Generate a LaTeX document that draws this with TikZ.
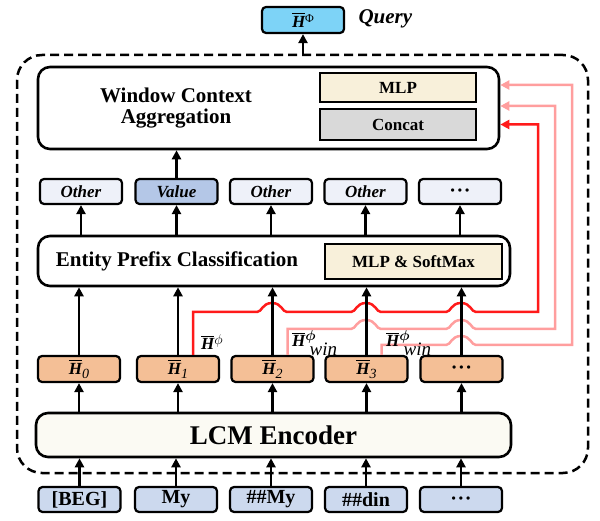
\documentclass[tikz,border=0pt]{standalone}
\usepackage{fontspec}
\usepackage{amsmath}
\usepackage{bm}
\setmainfont{Liberation Serif}
\usetikzlibrary{arrows.meta,calc}
\definecolor{qcyan}{HTML}{7DD3F7}
\definecolor{beige}{HTML}{F8F0DA}
\definecolor{cgray}{HTML}{D9D9D9}
\definecolor{olight}{HTML}{EEF1F9}
\definecolor{vblue}{HTML}{B4C7E7}
\definecolor{peach}{HTML}{F4BF96}
\definecolor{tokblue}{HTML}{CCD9EE}
\definecolor{lcmfill}{HTML}{FBFAF3}
\definecolor{myred}{HTML}{FF1A1A}
\definecolor{mypink}{HTML}{FF9E9E}
\newcommand{\fs}[1]{\fontsize{#1}{#1}\selectfont}
\newcommand{\Hbar}{$\overline{\text{\bfseries\itshape H}}$}
\newcommand{\Hsub}[1]{\Hbar\raisebox{-4pt}{\fs{14}\itshape #1}}
\newcommand{\Hphi}{\Hbar\raisebox{5pt}{\fs{14}$\phi$}}
\newcommand{\Hwin}{\Hbar\raisebox{6pt}{\fs{14}$\bm{\phi}$}\hspace{-6pt}\raisebox{-9pt}{\fs{19}\itshape win}}
\newcommand{\threedots}{\textbullet\hspace{3pt}\textbullet\hspace{3pt}\textbullet}
\begin{document}
\begin{tikzpicture}[x=1pt,y=-1pt,
  smallbox/.style={draw, line width=2.2pt, rounded corners=4pt, minimum width=82pt, minimum height=26pt, inner sep=0pt},
  bigbox/.style={draw, line width=2.6pt, rounded corners=12pt, inner sep=0pt},
  inbox/.style={draw, line width=2.2pt, inner sep=0pt},
  arr/.style={line width=2.6pt, -{Triangle[length=9pt,width=9pt]}},
  redl/.style={line width=2.5pt, draw=myred, -{Triangle[length=9pt,width=9pt]}},
  pinkl/.style={line width=2.5pt, draw=mypink, -{Triangle[length=9pt,width=9pt]}},
  othertxt/.style={font=\bfseries\itshape\fs{17}},
  toktxt/.style={font=\bfseries\fs{20}},
  htxt/.style={font=\fs{17}}
]
\useasboundingbox (0,0) rectangle (600,521);

% dashed frame
\node[draw, dashed, dash pattern=on 9pt off 5pt, line width=2.5pt, rounded corners=25pt,
      minimum width=571pt, minimum height=418pt, inner sep=0pt] (frame) at (302.5,264) {};

% query
\node[smallbox, fill=qcyan, minimum width=82pt, minimum height=26pt, font=\fs{17}] (query) at (303,20)
  {\Hbar\raisebox{5pt}{\fs{12}Φ}};
\node[anchor=west, font=\bfseries\itshape\fs{21}] (qlab) at (355,19) {Query};

% window context aggregation
\node[bigbox, minimum width=461pt, minimum height=82pt] (wca) at (268.5,108) {};
\node[font=\bfseries\fs{21}, align=center] (wcatxt) at (176,108)
  {\fontsize{21}{25}\selectfont Window Context\\Aggregation};
\node[inbox, fill=beige, minimum width=156pt, minimum height=29pt, font=\bfseries\fs{17}] (mlp) at (398,87.5) {MLP};
\node[inbox, fill=cgray, minimum width=156pt, minimum height=31pt, font=\bfseries\fs{17}] (concat) at (398,124.5) {Concat};

% outputs
\node[smallbox, fill=olight, minimum height=25pt, othertxt] (o1) at (81,191.5) {Other};
\node[smallbox, fill=vblue, minimum height=25pt, othertxt] (o2) at (176.5,191.5) {Value};
\node[smallbox, fill=olight, minimum height=25pt, othertxt] (o3) at (271,191.5) {Other};
\node[smallbox, fill=olight, minimum height=25pt, othertxt] (o4) at (365.5,191.5) {Other};
\node[smallbox, fill=olight, minimum height=25pt, font=\bfseries\fs{12}] (o5) at (460,191.5) {\threedots};

% entity prefix classification
\node[bigbox, minimum width=472pt, minimum height=50pt] (epc) at (274,261) {};
\node[font=\bfseries\fs{21}] (epctxt) at (177,261) {Entity Prefix Classification};
\node[inbox, fill=beige, minimum width=177pt, minimum height=35pt, font=\bfseries\fs{17}] (mlpsm) at (413.5,261.5) {MLP \& SoftMax};

% hidden states
\node[smallbox, fill=peach, htxt] (h1) at (79,369) {\Hsub{0}};
\node[smallbox, fill=peach, htxt] (h2) at (178,369) {\Hsub{1}};
\node[smallbox, fill=peach, htxt] (h3) at (272.5,369) {\Hsub{2}};
\node[smallbox, fill=peach, htxt] (h4) at (366.5,369) {\Hsub{3}};
\node[smallbox, fill=peach, font=\bfseries\fs{12}] (h5) at (461.5,369) {\threedots};

% LCM encoder
\node[bigbox, fill=lcmfill, minimum width=475pt, minimum height=44pt, font=\bfseries\fs{27}] (lcm) at (273.5,435) {LCM Encoder};

% tokens
\node[smallbox, fill=tokblue, minimum height=25pt, toktxt] (t1) at (79.5,499.5) {[BEG]};
\node[smallbox, fill=tokblue, minimum height=25pt, toktxt] (t2) at (176,499.5) {My};
\node[smallbox, fill=tokblue, minimum height=25pt, toktxt] (t3) at (271,499.5) {\#\#My};
\node[smallbox, fill=tokblue, minimum height=25pt, toktxt] (t4) at (366,499.5) {\#\#din};
\node[smallbox, fill=tokblue, minimum height=25pt, font=\bfseries\fs{12}] (t5) at (461,499.5) {\threedots};

% red / pink connectors
\draw[pinkl] ($(h4.north)+(15,0)$) -- (381.5,345) -- (446,345)
  .. controls (451,345) and (451,336) .. (461,336) .. controls (471,336) and (471,345) .. (476,345)
  -- (572,345) |- (wca.east |- 0,85);
\draw[pinkl] ($(h3.north)+(15,0)$) -- (287.5,329) -- (351,329)
  .. controls (356,329) and (356,320) .. (366,320) .. controls (376,320) and (376,329) .. (381,329)
  -- (446,329)
  .. controls (451,329) and (451,320) .. (461,320) .. controls (471,320) and (471,329) .. (476,329)
  -- (555,329) |- (wca.east |- 0,106);
\draw[redl] ($(h2.north)+(15,0)$) -- (193,312) -- (257,312)
  .. controls (262,312) and (262,303) .. (272,303) .. controls (282,303) and (282,312) .. (287,312)
  -- (351,312)
  .. controls (356,312) and (356,303) .. (366,303) .. controls (376,303) and (376,312) .. (381,312)
  -- (446,312)
  .. controls (451,312) and (451,303) .. (461,303) .. controls (471,303) and (471,312) .. (476,312)
  -- (538,312) |- (wca.east |- concat.east);

% labels on connectors
\node[anchor=west, inner sep=0pt, font=\fs{17}] (lab1) at (201,342) {\Hphi};
\node[anchor=west, inner sep=0pt, font=\fs{17}] (lab2) at (292,343) {\Hwin};
\node[anchor=west, inner sep=0pt, font=\fs{17}] (lab3) at (386,343) {\Hwin};

% black arrows
\draw[arr] (frame.north -| query.south) -- (query.south);
\draw[arr] (o2.north) -- (wca.south -| o2.north);
\foreach \i in {1,...,5} {
  \draw[arr] (epc.north -| o\i.south) -- (o\i.south);
  \draw[arr] (h\i.north) -- (epc.south -| h\i.north);
  \draw[arr] (lcm.north -| h\i.south) -- (h\i.south);
  \draw[arr] (t\i.north) -- (lcm.south -| t\i.north);
}
\end{tikzpicture}
\end{document}
